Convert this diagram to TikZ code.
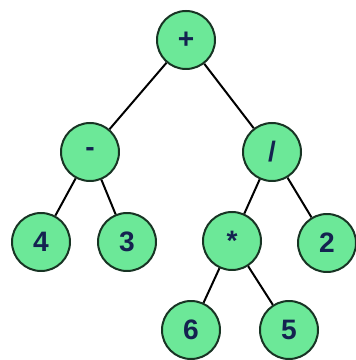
\documentclass[tikz,border=0pt]{standalone}
\usepackage{fontspec}
\setmainfont{Liberation Sans}
\usetikzlibrary{calc}

\definecolor{mint}{RGB}{108,232,152}
\definecolor{rimgreen}{RGB}{24,52,36}
\definecolor{navy}{RGB}{20,34,80}

\begin{document}
\begin{tikzpicture}[every node/.style={font=\fontsize{24}{28}\selectfont\bfseries},
  tnode/.style={circle,draw=rimgreen,line width=1.7pt,fill=mint,text=navy,minimum size=1.74cm,inner sep=0pt}]
\useasboundingbox (0,0) rectangle (10.65,10.8);

\node[tnode] (plus) at (5.58,9.6) {+};
\node[tnode] (minus) at (2.7,6.24) {-};
\node[tnode] (div) at (8.16,6.24) {/};
\node[tnode] (four) at (1.23,3.54) {4};
\node[tnode] (three) at (3.81,3.54) {3};
\node[tnode] (mul) at (6.96,3.57) {*};
\node[tnode] (two) at (9.81,3.51) {2};
\node[tnode] (six) at (5.73,0.9) {6};
\node[tnode] (five) at (8.67,0.9) {5};

\draw[line width=1.7pt] (plus) -- (minus);
\draw[line width=1.7pt] (plus) -- (div);
\draw[line width=1.7pt] (minus) -- (four);
\draw[line width=1.7pt] (minus) -- (three);
\draw[line width=1.7pt] (div) -- (mul);
\draw[line width=1.7pt] (div) -- (two);
\draw[line width=1.7pt] (mul) -- (six);
\draw[line width=1.7pt] (mul) -- (five);
\end{tikzpicture}
\end{document}
